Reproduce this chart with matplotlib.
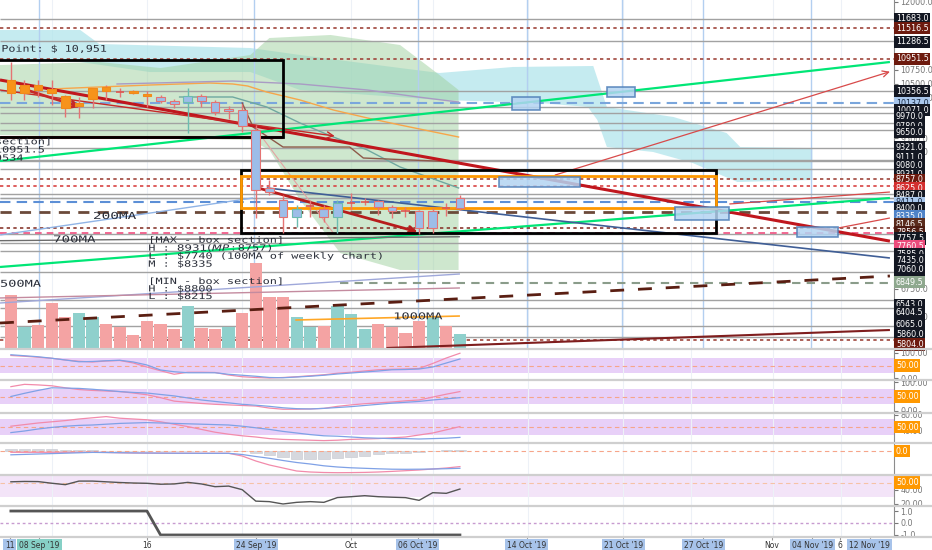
import matplotlib
matplotlib.use('Agg')
import matplotlib.pyplot as plt
import matplotlib.transforms as mtransforms
from matplotlib.textpath import TextPath
from matplotlib.patches import PathPatch, Rectangle
from matplotlib.font_manager import FontProperties
from matplotlib.lines import Line2D
import numpy as np

W, H = 932, 550

# x = trading day counted from 16 Sep 2019 (bars run 06 Sep .. 09 Oct)
day = np.arange(-10, 24)

c_open  = [10328, 10328, 10383, 10328, 10053, 10089, 10218, 10365, 10365, 10328, 10273,
           10255, 10181, 10273, 10273, 10163, 10034, 10016, 9649, 8585, 8364, 8199,
           8273, 8199, 8309, 8328, 8364, 8346, 8236, 8181, 8163, 8163, 8236, 8401]
c_close = [10566, 10475, 10475, 10401, 10273, 10144, 10420, 10438, 10346, 10365, 10310,
           10181, 10126, 10163, 10181, 9979, 9998, 9723, 8548, 8511, 8052, 8052,
           8236, 8052, 8052, 8291, 8309, 8236, 8163, 8163, 7851, 7851, 8218, 8218]
c_high  = [10897, 10566, 10566, 10566, 10291, 10255, 10420, 10475, 10420, 10383, 10365,
           10291, 10218, 10420, 10310, 10199, 10089, 10126, 9741, 8731, 8456, 8273,
           8364, 8273, 8364, 8493, 8400, 8364, 8273, 8236, 8181, 8218, 8309, 8456]
c_low   = [10199, 10199, 10255, 10108, 9888, 9869, 10053, 10199, 10255, 10310, 10071,
           10144, 10053, 9594, 10071, 9924, 9851, 9612, 8034, 8456, 7777, 7869,
           8052, 7961, 7777, 8181, 8273, 8089, 8034, 8052, 7759, 7777, 8071, 8181]
c_kind  = ['o', 'o', 'o', 'o', 'o', 'o', 'o', 'o', 'x', 'o', 'o',
           'b', 'b', 't', 'b', 'b', 'b', 'b', 'b', 'b', 'b', 't',
           'x', 'b', 't', 'x', 'x', 'b', 'b', 'x', 'b', 'b', 'x', 'b']

volume = [53, 21, 23, 45, 31, 35, 31, 24, 21, 13, 27, 24, 19, 42, 20, 19, 21,
          35, 85, 51, 51, 31, 21, 22, 42, 34, 19, 24, 21, 15, 27, 31, 22, 14]
vol_up = [0, 1, 0, 0, 0, 1, 1, 0, 0, 0, 0, 0, 0, 1, 0, 0, 1,
          0, 0, 0, 0, 1, 1, 0, 1, 1, 1, 0, 0, 0, 0, 1, 0, 1]

# oscillators
stoch_k = [90, 87, 83, 79, 72, 67, 64, 68, 70, 60, 44, 29, 15, 23, 23, 22, 12,
           5, 2, 0, 2, 5, 9, 13, 19, 23, 28, 33, 35, 36, 38, 58, 80, 99]
stoch_d = [93, 89, 85, 79, 72, 65, 66, 69, 71, 64, 52, 32, 25, 21, 21, 21, 15,
           11, 7, 2, 1, 4, 7, 11, 16, 20, 24, 28, 33, 34, 36, 44, 60, 76]
srsi_k = [84, 92, 90, 87, 80, 74, 71, 69, 67, 62, 56, 46, 34, 30, 26, 23, 21,
          19, 17, 10, 6, 6, 7, 9, 16, 21, 25, 28, 31, 35, 38, 48, 58, 67]
srsi_d = [50, 61, 71, 80, 79, 78, 75, 71, 67, 64, 62, 57, 52, 45, 38, 33, 28,
          23, 20, 16, 11, 8, 7, 9, 12, 15, 19, 23, 27, 30, 33, 38, 42, 46]
rsi_a = [52, 56, 60, 63, 66, 70, 73, 76, 72, 70, 68, 63, 57, 51, 44, 37, 32,
         28, 25, 21, 19, 18, 17, 16, 17, 19, 20, 21, 23, 25, 30, 35, 43, 51]
rsi_b = [36, 40, 45, 49, 52, 54, 55, 57, 59, 60, 61, 60, 59, 58, 57, 56, 55,
         52, 48, 44, 39, 35, 31, 28, 27, 25, 23, 22, 21, 21, 20, 21, 22, 24]
macd = [-1.3, -1.3, -1.3, -1.3, -1.3, -1.3, -1.3, -1.5, -1.8, -2.0, -2.1, -2.2,
        -2.3, -2.3, -2.3, -2.3, -2.3, -5.0, -10.0, -14.0, -17.0, -20.0, -21.0,
        -21.5, -21.7, -21.6, -21.4, -21.0, -20.4, -19.7, -19.0, -18.0, -17.0, -15.6]
signal = [-3.8, -3.4, -3.0, -2.6, -2.2, -1.8, -1.4, -1.5, -1.7, -1.9, -2.0, -2.1,
          -2.2, -2.2, -2.3, -2.3, -2.3, -3.5, -5.5, -7.3, -9.5, -11.5, -13.0,
          -14.8, -16.0, -16.8, -17.3, -17.8, -18.2, -18.3, -18.2, -18.0, -17.7, -17.3]
hist = [2.5, 2.5, 2.3, 2.0, 1.5, 1.2, 0.6, 0.4, 0.2, 0.1, 0.1, 0.1, 0.1, 0.1,
        0.1, 0.1, 0.1, 0.1, -2.0, -4.0, -5.7, -8.0, -8.0, -8.0, -7.0, -5.7,
        -4.7, -3.3, -2.3, -1.5, -0.8, 0.3, 0.8, 1.5]
mfi = [51, 51.5, 51.3, 49, 47, 52, 52, 51, 50, 49.3, 48.9, 47.6, 48, 50.2, 48,
       44.2, 45, 40, 24, 23.3, 20, 22.3, 23.3, 22.3, 29, 30.2, 31.6, 30.2, 29.5,
       28.9, 25.1, 35.8, 34.9, 40.9]
trend = [1, 1, 1, 1, 1, 1, 1, 1, 1, 1, 1, -1, -1, -1, -1, -1, -1,
         -1, -1, -1, -1, -1, -1, -1, -1, -1, -1, -1, -1, -1, -1, -1, -1, -1]

# horizontal price levels drawn on the chart
levels = [11683.0, 11516.5, 11286.5, 10951.5, 10356.5, 10137.0, 10071.0, 9970.0,
          9780.0, 9650.0, 9321.0, 9111.0, 9080.0, 8931.0, 8757.0, 8625.0, 8487.0,
          8411.0, 8400.0, 8335.0, 8146.5, 7856.5, 7757.5, 7760.5, 7585.0, 7435.0,
          7060.0, 6849.5, 6543.0, 6404.5, 6065.0, 5860.0, 5804.0]
level_kind = ['k', 'dr', 'k', 'dr', 'k', 'lb', 'k', 'k', 'k', 'k', 'k', 'k', 'k',
              'k', 'dr', 'r', 'k', 'lb2', 'k', 'sb', 'br', 'dbr', 'k', 'pk', 'k',
              'k', 'k', 'gg', 'k', 'k', 'k', 'k', 'dr']
label_shift = [0, 0, 1, 0, 0, 0, 3, 4, 3, 2, -1, -2, 4, 5, 1, 2, 2, 5, 10, 14,
               12, 4, 5, 13, 11, 9, -2, -1, 5, 5, -2, -3, 4]   # px, avoids overlap

STYLE = {  # line colour, dash, width, label bg, label fg
    'k':   ('#a2a2a2', '-', 1.0, '#131722', 'white'),
    'dr':  ('#a0463c', (0, (2, 2)), 1.2, '#6d1a0e', 'white'),
    'r':   ('#d84343', (0, (2, 2)), 1.2, '#d32f2f', 'white'),
    'lb':  ('#7aa6dc', (0, (5, 3)), 1.5, '#a9c7ec', '#1a2b44'),
    'lb2': ('#b4c8e2', '-', 1.0, '#a9c7ec', '#1a2b44'),
    'sb':  ('#5c8fd6', (0, (5, 3)), 1.5, '#4f83c8', 'white'),
    'br':  ('#6b4a3a', (0, (4, 3)), 2.0, '#5a2b1c', 'white'),
    'dbr': ('#8a3a30', (0, (2, 2)), 1.2, '#4e1c12', 'white'),
    'pk':  ('#ef4f7f', (0, (4, 3)), 1.2, '#ec4c7c', 'white'),
    'gg':  ('#8a9c8a', (0, (4, 3)), 1.5, '#8ea88e', 'white'),
}

# drawings (day, price)
cyan_x = [-10.8, -4.9, -3.5, 7.6, 11.25, 18.6, 21.5, 26.9, 32.8, 33.8, 38.7, 42.6, 43.6, 48.9,
          48.9, 43.4, 40.1, 37.2, 33.8, 33.1, 32.4, 28.9, 21.5, 11.25, 7.6, 0.2, -4.9, -10.8]
cyan_y = [11481, 11481, 11225, 11152, 11024, 10786, 10695, 10805, 10823, 10073, 9890, 9597, 9341, 9323,
          8738, 8701, 9049, 9250, 9341, 9835, 10073, 10146, 10201, 10384, 10713, 10713, 10896, 10933]
green_x = [-10.8, -3.5, 1.0, 7.6, 9.0, 13.5, 18.6, 21.5, 22.9, 22.9, 18.6, 14.2, 11.25, 9.0, 7.6, 0.2, -10.8]
green_y = [10841, 10896, 10786, 11024, 11335, 11390, 11207, 10658, 10384, 7092, 7092, 7403, 8372, 9287,
           9469, 9506, 9561]

ma_orange = ([-7.1, -3.5, 0.2, 4.6, 6.3, 7.4, 8.8, 11.25, 13.7, 16.2, 18.6, 22.9],
             [10402, 10439, 10475, 10512, 10494, 10457, 10347, 10201, 10018, 9872, 9744, 9524])
ma_lav = ([-2.2, 6.3, 11.25, 16.2, 19.9, 22.9], [10494, 10548, 10494, 10384, 10256, 10164])
ma_teal = ([2.4, 6.3, 8.8, 11.25, 13.7, 16.2, 18.6, 22.9],
           [10256, 10256, 10073, 9780, 9524, 9287, 8976, 8592])
kijun = ([7.0, 7.8, 10.0, 14.9, 15.9, 22.9], [10146, 9707, 9341, 9341, 9140, 9067])

# straight lines: x0, y0, x1, y1, colour, width, dash
seg_lines = [
    (-10.8, 10567, 54.6, 7620, '#c0161d', 2.2, '-'),
    (-10.8, 9524, 10.0, 9524, '#c0161d', 2.2, '-'),
    (-10.8, 9085, 54.6, 10896, '#00e676', 1.6, '-'),
    (-10.8, 7147, 54.6, 8409, '#00e676', 1.6, '-'),
    (8.8, 8592, 54.6, 7311, '#3f5e96', 1.2, '-'),
    (-10.8, 7732, 7.8, 8409, '#90b4e6', 1.0, '-'),
    (-10.8, 7628, 23.0, 7700, '#6d6d6d', 1.0, '-'),
    (-10.8, 6488, 23.0, 7019, '#9fa8da', 1.0, '-'),
    (-10.8, 6580, 23.0, 6763, '#c48b9f', 1.0, '-'),
    (10.9, 6177, 23.0, 6250, '#ffa726', 1.2, '-'),
    (-10.8, 6122, 54.6, 6982, '#5a1e12', 2.0, (0, (5, 5))),
    (17.6, 5665, 54.6, 5994, '#7f1d1d', 1.5, '-'),
    (42.8, 8299, 54.6, 8518, '#d84a4a', 0.9, '-'),
    (50.8, 7860, 54.6, 8043, '#d84a4a', 0.9, '-'),
    (8.5, 9506, 13.7, 7768, '#e3a3a3', 0.8, '-'),
]
arrows = [  # start, end, colour, width
    ((-10.8, 10384), (13.8, 9542), '#c62828', 1.0),
    ((-9.3, 10420), (-4.9, 10073), '#c62828', 2.0),
    ((7.9, 8610), (19.9, 7787), '#b71c1c', 2.0),
    ((30.0, 8829), (54.6, 10719), '#d84a4a', 0.9),
]
blue_boxes = [  # left, right, low, high
    (26.8, 28.9, 10018, 10256),
    (33.8, 35.9, 10256, 10439),
    (25.9, 31.8, 8610, 8793),
    (38.8, 42.8, 8006, 8244),
    (47.8, 50.8, 7695, 7878),
]
draw_days = [-7.9, 7.9, 19.9, 27.9, 34.9, 40.9, 48.8]
grid_days = [-7, 0, 7, 15, 21, 28, 35, 40, 46, 51]

tick_days = [-10.1, -7.9, 0, 8.0, 15.0, 19.9, 27.9, 35.0, 40.9, 45.9, 48.9, 50.9, 53.1]
tick_text = ['11', "08 Sep '19", '16', "24 Sep '19", 'Oct', "06 Oct '19", "14 Oct '19",
             "21 Oct '19", "27 Oct '19", 'Nov', "04 Nov '19", '6', "12 Nov '19"]
tick_hl = ['#a7c3ea', '#86d0c6', None, '#a7c3ea', None, '#a7c3ea', '#a7c3ea',
           '#a7c3ea', '#a7c3ea', None, '#a7c3ea', None, '#a7c3ea']

XLIM = (-10.8, 54.9)
PMIN, PMAX = 5665, 12030
VOL_SCALE = (PMAX - PMIN) / 348.0

fig = plt.figure(figsize=(W / 100, H / 100), dpi=100)
fig.patch.set_facecolor('white')
AXW = 894 / W


def pane(top, bottom, share=None):
    a = fig.add_axes([0, 1 - bottom / H, AXW, (bottom - top) / H], sharex=share)
    a.set_facecolor('white')
    for s in ('top', 'left', 'bottom'):
        a.spines[s].set_visible(False)
    a.spines['right'].set_color('#8c8c8c')
    a.yaxis.tick_right()
    a.tick_params(axis='y', labelsize=5.8, colors='#777777', length=3, pad=1.5)
    a.tick_params(axis='x', labelbottom=False, length=0)
    for g in grid_days:
        a.axvline(g, color='#edf1f7', lw=0.8, zorder=0.5)
    return a


def tv_text(a, x, y, s, em=8.6, sx=1.38, lead=8.0, color='#2a2e39'):
    prop = FontProperties(family='DejaVu Sans Mono')
    for k, line in enumerate(s.split('\n')):
        path = TextPath((0, 0), line, size=em, prop=prop)
        tr = (mtransforms.Affine2D().scale(sx, 1.0).translate(0, -lead * k)
              + mtransforms.ScaledTranslation(x, y, a.transData))
        a.add_artist(PathPatch(path, transform=tr, fc=color, ec='none', lw=0, zorder=8))


def side_label(a, y, txt, bg, fg, shift_px=0):
    base = mtransforms.blended_transform_factory(a.transAxes, a.transData)
    t = mtransforms.offset_copy(base, fig=fig, x=2.0 * 0.72, y=-shift_px * 0.72, units='points')
    a.text(1.0, y, txt, transform=t, ha='left', va='center', fontsize=5.8, color=fg,
           bbox=dict(boxstyle='square,pad=0.2', fc=bg, ec='none'), clip_on=False, zorder=30)


# ---------------- main price pane ----------------
ax = pane(0, 348)
ax.set_xlim(*XLIM)
ax.set_ylim(PMIN, PMAX)
ax.set_yticks([12000, 10750, 10500, 10250, 9500, 9250, 6750, 6250])
ax.set_yticklabels([f'{v:.1f}' for v in [12000, 10750, 10500, 10250, 9500, 9250, 6750, 6250]])

ax.fill(cyan_x, cyan_y, color='#b2e5ec', alpha=0.75, lw=0, zorder=1)
ax.fill(green_x, green_y, color='#9ed09e', alpha=0.5, lw=0, zorder=1.1)

for d in draw_days:
    ax.axvline(d, color='#b3cff0', lw=1, zorder=1.5)

for p, k in zip(levels, level_kind):
    col, ls, lw = STYLE[k][:3]
    x0 = 14.2 if k == 'gg' else XLIM[0]
    ax.hlines(p, x0, XLIM[1], color=col, ls=ls, lw=lw, zorder=2)

# volume
ax.bar(day, np.array(volume) * VOL_SCALE, bottom=PMIN, width=0.9,
       color=['#8fd0cc' if u else '#f4a3a3' for u in vol_up], lw=0, zorder=2.2)

for x0, y0, x1, y1, col, lw, ls in seg_lines:
    ax.plot([x0, x1], [y0, y1], color=col, lw=lw, ls=ls, zorder=3.5, solid_capstyle='butt')
for (sx0, sy0), (ex, ey), col, lw in arrows:
    ax.annotate('', xy=(ex, ey), xytext=(sx0, sy0),
                arrowprops=dict(arrowstyle='->', color=col, lw=lw, mutation_scale=11,
                                shrinkA=0, shrinkB=0), zorder=3.6, annotation_clip=False)

ax.plot(*ma_orange, color='#f7a64a', lw=1.0, zorder=3)
ax.plot(*ma_lav, color='#a99bc4', lw=1.0, zorder=3)
ax.plot(*ma_teal, color='#6fa8a0', lw=1.0, zorder=3)
ax.plot(*kijun, color='#8d5a4a', lw=1.0, zorder=3)

ax.add_patch(Rectangle((-12, 9524), 22.0, 10933 - 9524, fc='none', ec='black', lw=2, zorder=4))
ax.add_patch(Rectangle((6.9, 7768), 34.9, 8921 - 7768, fc='none', ec='black', lw=2, zorder=4))
ax.add_patch(Rectangle((6.9, 8226), 34.9, 8811 - 8226, fc='none', ec='#ff9800', lw=2, zorder=4.1))
for l, r, lo, hi in blue_boxes:
    ax.add_patch(Rectangle((l, lo), r - l, hi - lo, fc='#b3d4f2', alpha=0.85,
                           ec='#4f7fb8', lw=1.2, zorder=4.2))

WICK = {'o': '#e57373', 'b': '#e57373', 't': '#6cbcb0', 'x': '#e57373'}
FILL = {'o': '#f7931a', 'b': '#9dbde8', 't': '#9dbde8'}
EDGE = {'o': '#f08a1a', 'b': '#e57373', 't': '#6cbcb0'}
for d, o, c, hi, lo, k in zip(day, c_open, c_close, c_high, c_low, c_kind):
    ax.vlines(d, lo, hi, color=WICK[k], lw=1, zorder=5)
    if k == 'x':
        ax.hlines((o + c) / 2, d - 0.3, d + 0.3, color='#e0564f', lw=1.2, zorder=5)
    else:
        ax.add_patch(Rectangle((d - 0.32, min(o, c)), 0.64, abs(c - o), fc=FILL[k],
                               ec=EDGE[k], lw=0.8, zorder=5.1))

tv_text(ax, -13.8, 11084, 'Entry Point: $ 10,951', em=9.2, sx=1.27)
tv_text(ax, -13.8, 9391, '[box section]\nH : $10951.5\nL : $9534', lead=8.2)
tv_text(ax, 0.1, 7591, '[MAX - box section]\nH : $8931 (MP : $8757)\n'
        'L : $7740 (100MA of weekly chart)\nM : $8335')
tv_text(ax, 0.1, 6836, '[MIN - box section]\nH : $8800\nL : $8215', lead=7.5)
tv_text(ax, -3.97, 8025, '200MA', em=9.6, sx=1.5)
tv_text(ax, -6.9, 7598, '700MA', em=9.4, sx=1.5)
tv_text(ax, -10.8, 6786, '500MA', em=9.4, sx=1.45)
tv_text(ax, 18.1, 6190, '1000MA', em=9.4, sx=1.45)

for p, k, s in zip(levels, level_kind, label_shift):
    side_label(ax, p, f'{p:.1f}', STYLE[k][3], STYLE[k][4], s)

# ---------------- indicator panes ----------------
ORANGE_BOX = '#ff9800'
PINK, BLUE = '#f28bab', '#7fa1e6'

ax2 = pane(349, 380, ax)
ax2.set_ylim(-8, 116)
ax2.axhspan(20, 80, color='#e8d0f8', lw=0, zorder=0.2)
ax2.axhline(50, color='#f6a58a', ls=(0, (4, 3)), lw=0.8)
ax2.plot(day, stoch_k, color=PINK, lw=0.9)
ax2.plot(day, stoch_d, color=BLUE, lw=0.9)
ax2.set_yticks([0, 100])
ax2.set_yticklabels(['0.00', '100.00'])
side_label(ax2, 50, '50.00', ORANGE_BOX, 'white')

ax3 = pane(380, 413, ax)
ax3.set_ylim(-7, 107)
ax3.axhspan(25, 75, color='#e8d0f8', lw=0, zorder=0.2)
ax3.axhline(50, color='#f6a58a', ls=(0, (4, 3)), lw=0.8)
ax3.plot(day, srsi_k, color=PINK, lw=0.9)
ax3.plot(day, srsi_d, color=BLUE, lw=0.9)
ax3.set_yticks([0, 100])
ax3.set_yticklabels(['0.00', '100.00'])
side_label(ax3, 50, '50.00', ORANGE_BOX, 'white')

ax4 = pane(413, 443, ax)
ax4.set_ylim(10, 85)
ax4.axhspan(30, 70, color='#e8d0f8', lw=0, zorder=0.2)
ax4.axhline(50, color='#f6a58a', ls=(0, (4, 3)), lw=0.8)
ax4.plot(day, rsi_a, color=PINK, lw=0.9)
ax4.plot(day, rsi_b, color=BLUE, lw=0.9)
ax4.set_yticks([40, 80])
ax4.set_yticklabels(['40.00', '80.00'])
side_label(ax4, 50, '50.00', ORANGE_BOX, 'white')

ax5 = pane(443, 475, ax)
ax5.set_ylim(-24, 8)
ax5.axhline(0, color='#f6a58a', ls=(0, (4, 3)), lw=0.8)
ax5.bar(day, hist, width=0.85, color='#d6d8de', ec='#c4c7cf', lw=0.4, zorder=1)
ax5.plot(day, macd, color=PINK, lw=0.9, zorder=2)
ax5.plot(day, signal, color=BLUE, lw=0.9, zorder=2)
ax5.set_yticks([])
side_label(ax5, 0, '0.0', ORANGE_BOX, 'white')

ax6 = pane(475, 506, ax)
ax6.set_ylim(17.2, 60.5)
ax6.axhspan(30, 70, color='#f3e4f8', lw=0, zorder=0.2)
ax6.axhline(50, color='#f6c2a6', ls=(0, (4, 3)), lw=0.8)
ax6.plot(day, mfi, color='#555555', lw=1.0)
ax6.set_yticks([20, 40])
ax6.set_yticklabels(['20.00', '40.00'])
side_label(ax6, 50, '50.00', ORANGE_BOX, 'white')

ax7 = pane(506, 537, ax)
ax7.set_ylim(-1.17, 1.42)
ax7.axhline(0, color='#c79bd0', ls=(0, (2, 2)), lw=1)
ax7.plot(day, trend, color='#555555', lw=2)
ax7.set_yticks([-1, 0, 1])
ax7.set_yticklabels(['-1.0', '0.0', '1.0'])

ax7.set_xticks(tick_days)
ax7.set_xticklabels(tick_text)
ax7.tick_params(axis='x', labelbottom=True, length=2, pad=1, labelsize=5.5,
                colors='#333333', color='#999999')
for lab, hl in zip(ax7.get_xticklabels(), tick_hl):
    if hl:
        lab.set_bbox(dict(boxstyle='square,pad=0.25', fc=hl, ec='none'))
ax.set_xlim(*XLIM)

for y in (349, 380, 413, 443, 475, 506, 537):
    fig.add_artist(Line2D([0, 1], [1 - y / H, 1 - y / H], transform=fig.transFigure,
                          color='#cfcfcf', lw=1.6, zorder=50))

fig.savefig('out.png', dpi=100)
